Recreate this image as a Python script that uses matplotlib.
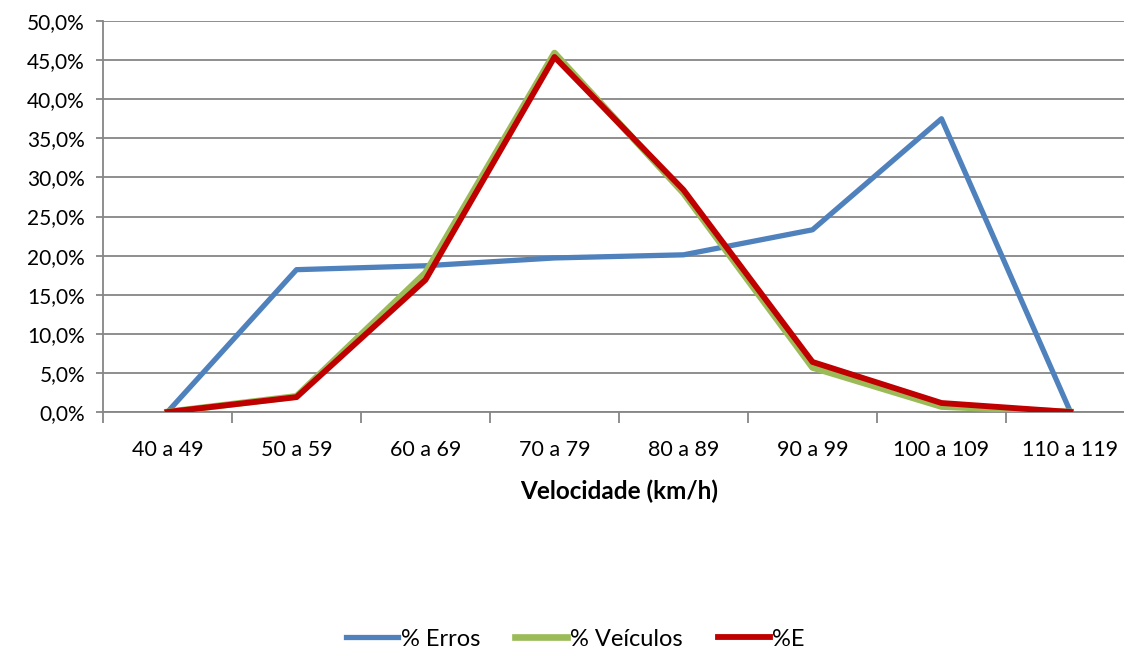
import matplotlib
matplotlib.use("Agg")
from matplotlib import pyplot as plt
from matplotlib.ticker import FuncFormatter, MultipleLocator
import numpy as np

plt.rcParams['font.family'] = ['Lato', 'DejaVu Sans']

faixas = ["40 a 49", "50 a 59", "60 a 69", "70 a 79", "80 a 89", "90 a 99", "100 a 109", "110 a 119"]
erros = [0.0, 18.2, 18.7, 19.7, 20.1, 23.3, 37.5, 0.0]
veiculos = [0.0, 2.0, 17.8, 45.9, 28.0, 5.7, 0.7, 0.0]
e_pct = [0.0, 1.9, 16.9, 45.4, 28.4, 6.4, 1.15, 0.0]

fig = plt.figure(figsize=(11.24, 6.5), dpi=100)
ax = fig.add_axes([103/1124, 238/650, 8*129/1124, 391/650])

x = np.arange(len(faixas))
ax.plot(x, erros, color="#4F81BD", lw=3.8, label="% Erros", zorder=3)
ax.plot(x, veiculos, color="#9BBB59", lw=4.8, label="% Veículos", zorder=4)
ax.plot(x, e_pct, color="#C00000", lw=4.2, label="%E", zorder=5)

ax.set_xlim(-0.5, len(faixas) - 0.5)
ax.set_ylim(0, 50)
ax.yaxis.set_major_locator(MultipleLocator(5))
ax.yaxis.set_major_formatter(FuncFormatter(lambda v, p: f"{v:.1f}%".replace(".", ",")))
ax.grid(axis="y", color="#868686", lw=1.3)
ax.set_axisbelow(True)

ax.set_xticks(x)
ax.set_xticklabels(faixas)
ax.set_xticks(np.arange(-0.5, len(faixas)), minor=True)
ax.tick_params(axis="x", which="major", length=0, pad=20, labelsize=15.5)
ax.tick_params(axis="x", which="minor", length=8, width=1.3, color="#868686")
ax.tick_params(axis="y", length=5, width=1.3, color="#868686", labelsize=15, pad=8)

for s in ["top", "right"]:
    ax.spines[s].set_visible(False)
ax.spines["left"].set_color("#868686")
ax.spines["left"].set_linewidth(1.3)
ax.spines["bottom"].set_color("#868686")
ax.spines["bottom"].set_linewidth(1.3)

ax.set_xlabel("Velocidade (km/h)", fontsize=17.5, fontweight="bold", labelpad=14)

fig.legend(loc="center", bbox_to_anchor=(0.512, 11/650), ncol=3, frameon=False,
           fontsize=17, handlelength=2.2, handletextpad=0.1, columnspacing=1.5)

fig.savefig("out.png", dpi=100)
